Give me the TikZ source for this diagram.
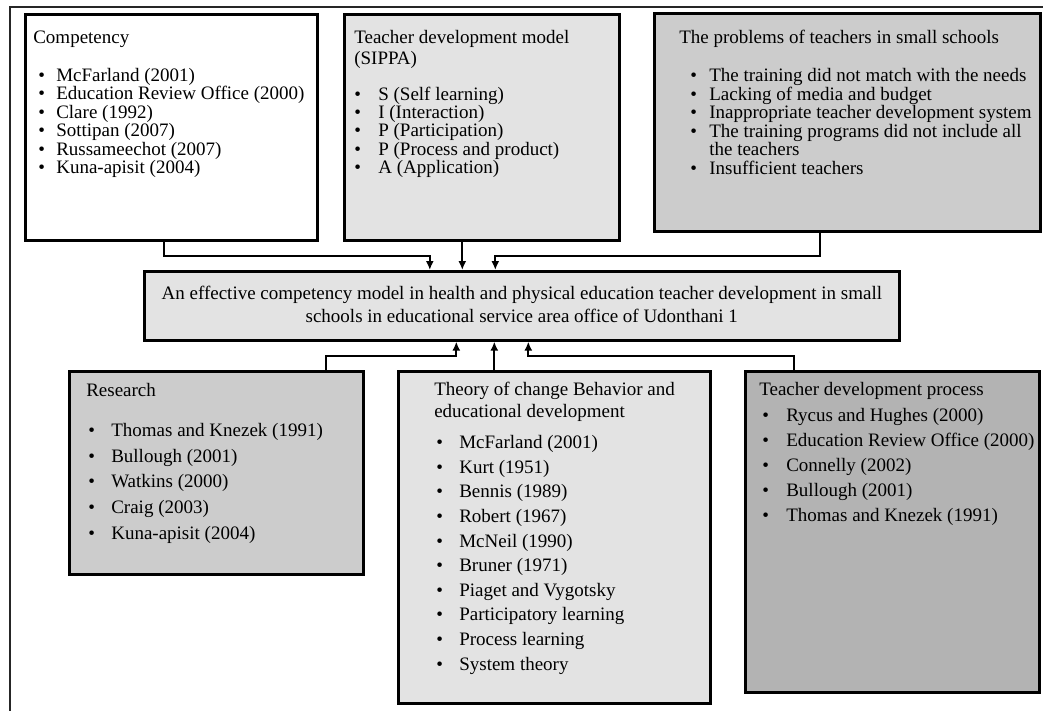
\documentclass[tikz,border=0pt]{standalone}
\usepackage{fontspec}
\setmainfont{Liberation Serif}
\usetikzlibrary{arrows.meta}

\definecolor{lightfill}{HTML}{E3E3E3}
\definecolor{midfill}{HTML}{CCCCCC}
\definecolor{darkfill}{HTML}{B3B3B3}

\tikzset{
  panel/.style={draw=black, line width=2.6pt, inner sep=0pt, anchor=north west},
  link/.style={line width=2pt, -{Latex[length=9pt,width=8pt]}},
}
\newcommand{\bul}[3]{\hspace*{#1}\makebox[#2][l]{\textbullet}\mbox{#3}}

\begin{document}
\begin{tikzpicture}[x=1pt,y=-1pt]
  \useasboundingbox (0,0) rectangle (1043,711);
  % frame round the figure, cut by the page
  \draw[line width=2.4pt, black!85] (1043,7) -- (10,7) -- (10,711);

  % upper row
  \node[panel, fill=white] (comp) at (24,13) {\hspace*{8pt}\parbox[t][226pt][t]{284pt}{\fontsize{19pt}{18.5pt}\selectfont\raggedright
    \vspace*{16pt}\rule{0pt}{13pt}Competency\\[19.5pt]
    \bul{5pt}{18pt}{McFarland (2001)}\\
    \bul{5pt}{18pt}{Education Review Office (2000)}\\
    \bul{5pt}{18pt}{Clare (1992)}\\
    \bul{5pt}{18pt}{Sottipan (2007)}\\
    \bul{5pt}{18pt}{Russameechot (2007)}\\
    \bul{5pt}{18pt}{Kuna-apisit (2004)}}};
  \node[panel, fill=lightfill] (sippa) at (343,13) {\hspace*{10pt}\parbox[t][226pt][t]{265pt}{\fontsize{19pt}{18.25pt}\selectfont\raggedright
    \vspace*{16pt}\rule{0pt}{13pt}Teacher development model\\[2.75pt]
    (SIPPA)\\[17.75pt]
    \bul{0pt}{24pt}{S (Self learning)}\\
    \bul{0pt}{24pt}{I (Interaction)}\\
    \bul{0pt}{24pt}{P (Participation)}\\
    \bul{0pt}{24pt}{P (Process and product)}\\
    \bul{0pt}{24pt}{A (Application)}}};
  \node[panel, fill=midfill] (prob) at (653,12) {\hspace*{25pt}\parbox[t][218pt][t]{361pt}{\fontsize{19pt}{18.5pt}\selectfont\raggedright
    \vspace*{17pt}\rule{0pt}{13pt}The problems of teachers in small schools\\[19.5pt]
    \bul{11pt}{19pt}{The training did not match with the needs}\\
    \bul{11pt}{19pt}{Lacking of media and budget}\\
    \bul{11pt}{19pt}{Inappropriate teacher development system}\\
    \bul{11pt}{19pt}{The training programs did not include all}\\
    \hspace*{30pt}the teachers\\
    \bul{11pt}{19pt}{Insufficient teachers}}};

  % the model in the middle
  \node[panel, fill=lightfill] (model) at (143,270) {\parbox[t][69pt][t]{755pt}{\fontsize{19pt}{23pt}\selectfont\centering
    \vspace*{15pt}\rule{0pt}{13pt}An effective competency model in health and physical education teacher development in small\\
    schools in educational service area office of Udonthani 1}};

  % lower row
  \node[panel, fill=midfill] (resr) at (68,370) {\hspace*{17pt}\parbox[t][203pt][t]{277pt}{\fontsize{19pt}{25.7pt}\selectfont\raggedright
    \vspace*{12pt}\rule{0pt}{13pt}Research\\[14.3pt]
    \bul{2pt}{23pt}{Thomas and Knezek (1991)}\\
    \bul{2pt}{23pt}{Bullough (2001)}\\
    \bul{2pt}{23pt}{Watkins (2000)}\\
    \bul{2pt}{23pt}{Craig (2003)}\\
    \bul{2pt}{23pt}{Kuna-apisit (2004)}}};
  \node[panel, fill=lightfill] (theo) at (397,370) {\hspace*{36pt}\parbox[t][332pt][t]{276pt}{\fontsize{19pt}{24.6pt}\selectfont\raggedright
    \vspace*{11pt}\rule{0pt}{13pt}Theory of change Behavior and\\[-2.6pt]
    educational development\\[6.4pt]
    \bul{2pt}{23pt}{McFarland (2001)}\\
    \bul{2pt}{23pt}{Kurt (1951)}\\
    \bul{2pt}{23pt}{Bennis (1989)}\\
    \bul{2pt}{23pt}{Robert (1967)}\\
    \bul{2pt}{23pt}{McNeil (1990)}\\
    \bul{2pt}{23pt}{Bruner (1971)}\\
    \bul{2pt}{23pt}{Piaget and Vygotsky}\\
    \bul{2pt}{23pt}{Participatory learning}\\
    \bul{2pt}{23pt}{Process learning}\\
    \bul{2pt}{23pt}{System theory}}};
  \node[panel, fill=darkfill] (tdp) at (744,370) {\hspace*{14pt}\parbox[t][321pt][t]{280pt}{\fontsize{19pt}{25pt}\selectfont\raggedright
    \vspace*{11pt}\rule{0pt}{13pt}Teacher development process\\[1pt]
    \bul{3pt}{24pt}{Rycus and Hughes (2000)}\\
    \bul{3pt}{24pt}{Education Review Office (2000)}\\
    \bul{3pt}{24pt}{Connelly (2002)}\\
    \bul{3pt}{24pt}{Bullough (2001)}\\
    \bul{3pt}{24pt}{Thomas and Knezek (1991)}}};

  % connectors into the model
  \draw[link] ([xshift=-7pt]comp.south) -- ++(0,14) -| ([xshift=-92pt]model.north);
  \draw[link] ([xshift=-19.5pt]sippa.south) -- ([xshift=-59.5pt]model.north);
  \draw[link] ([xshift=-27pt]prob.south) -- ++(0,23) -| ([xshift=-26.5pt]model.north);
  \draw[link] ([xshift=110pt]resr.north) -- ++(0,-14) -| ([xshift=-65.5pt]model.south);
  \draw[link] ([xshift=-60pt]theo.north) -- ([xshift=-27.5pt]model.south);
  \draw[link] ([xshift=-98pt]tdp.north) -- ++(0,-14) -| ([xshift=6.5pt]model.south);
\end{tikzpicture}
\end{document}
